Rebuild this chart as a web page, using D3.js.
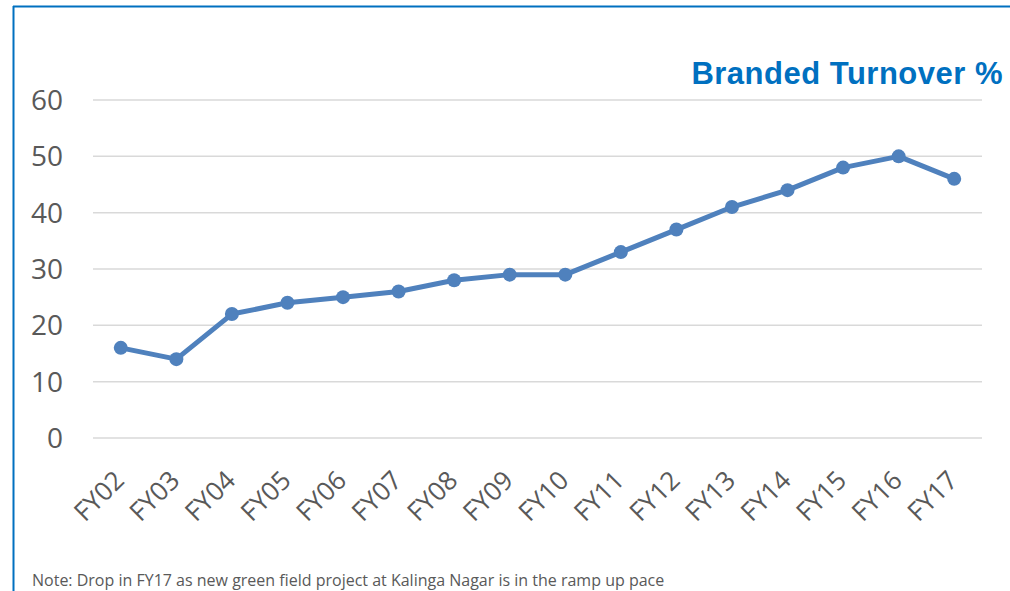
<!DOCTYPE html>
<html><head><meta charset="utf-8">
<script src="https://cdn.jsdelivr.net/npm/d3@7"></script>
<style>body{margin:0;background:#fff;}svg{display:block;}</style>
</head><body>
<svg id="c" width="1010" height="591"></svg>
<script>
const categories = ["FY02","FY03","FY04","FY05","FY06","FY07","FY08","FY09","FY10","FY11","FY12","FY13","FY14","FY15","FY16","FY17"];
const values = [16,14,22,24,25,26,28,29,29,33,37,41,44,48,50,46];
const yTicks = [0,10,20,30,40,50,60];
const title = "Branded Turnover %";
const note = "Note: Drop in FY17 as new green field project at Kalinga Nagar is in the ramp up pace";

const svg = d3.select("#c");
const font = "'Open Sans', 'Noto Sans', sans-serif";
const grey = "#595959";

// frame
svg.append("line").attr("x1",13).attr("x2",1010).attr("y1",6.5).attr("y2",6.5).attr("stroke","#0070C0").attr("stroke-width",2);
svg.append("line").attr("x1",13.5).attr("x2",13.5).attr("y1",6).attr("y2",591).attr("stroke","#0070C0").attr("stroke-width",2);

const x = d3.scaleBand().domain(categories).range([93,982]);
const y = d3.scaleLinear().domain([0,60]).range([438,100]);
const cx = d => x(d) + x.bandwidth()/2;

// grid
const g = svg.append("g");
g.selectAll("line.grid").data(yTicks).enter().append("line")
  .attr("x1",93).attr("x2",982).attr("y1",d=>y(d)).attr("y2",d=>y(d))
  .attr("stroke","#d9d9d9").attr("stroke-width",1.5);

// y labels
g.selectAll("text.yl").data(yTicks).enter().append("text")
  .attr("x",63).attr("y",d=>y(d)).attr("dy","0.36em")
  .attr("text-anchor","end").attr("font-family",font).attr("font-size",28)
  .attr("fill",grey).text(d=>d);

// x labels
g.selectAll("text.xl").data(categories).enter().append("text")
  .attr("transform",d=>`translate(${cx(d)+5},${482}) rotate(-45)`)
  .attr("text-anchor","end").attr("font-family",font).attr("font-size",26)
  .attr("fill",grey).text(d=>d);

// line
const pts = categories.map((c,i)=>({c, v: values[i]}));
const line = d3.line().x(d=>cx(d.c)).y(d=>y(d.v));
svg.append("path").datum(pts).attr("d",line).attr("fill","none")
  .attr("stroke","#4F81BD").attr("stroke-width",5).attr("stroke-linejoin","round");
svg.selectAll("circle").data(pts).enter().append("circle")
  .attr("cx",d=>cx(d.c)).attr("cy",d=>y(d.v)).attr("r",7)
  .attr("fill","#4F81BD");

// title
svg.append("text").attr("x",1003).attr("y",84).attr("text-anchor","end")
  .attr("font-family","'Liberation Sans', Arial, sans-serif").attr("font-weight","bold")
  .attr("font-size",31).attr("letter-spacing",0.5).attr("fill","#0070C0").text(title);

// note
svg.append("text").attr("x",32).attr("y",586).attr("font-family",font)
  .attr("font-size",16).attr("fill",grey).text(note);
</script>
</body></html>
